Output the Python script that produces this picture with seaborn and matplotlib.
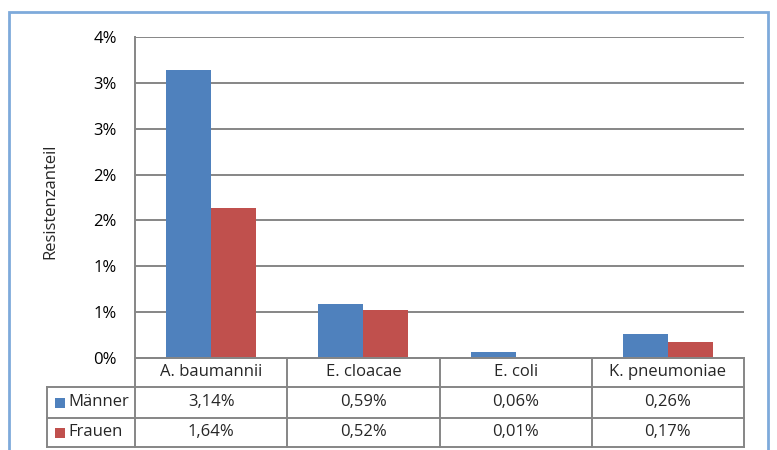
import math
import matplotlib
matplotlib.use("Agg")
import matplotlib.pyplot as plt
from matplotlib.patches import Rectangle
from matplotlib.ticker import FuncFormatter, MultipleLocator
import numpy as np
import pandas as pd
import seaborn as sns

# Resistenzanteile nach Erreger und Geschlecht (in %)
erreger = ["A. baumannii", "E. cloacae", "E. coli", "K. pneumoniae"]
maenner = [3.14, 0.59, 0.06, 0.26]
frauen = [1.64, 0.52, 0.01, 0.17]
gruppen = ["Männer", "Frauen"]
farben = ["#4F81BD", "#C0504D"]

sns.set_style("white")
plt.rcParams["font.family"] = ["Open Sans", "DejaVu Sans"]

df = pd.DataFrame({
    "Erreger": erreger * 2,
    "Gruppe": [gruppen[0]] * len(erreger) + [gruppen[1]] * len(erreger),
    "Wert": maenner + frauen,
})

W, H = 777, 450
fig = plt.figure(figsize=(W / 100, H / 100), dpi=100)
L, R, T, B = 135, 744, 37, 358
ax = fig.add_axes([L / W, (H - B) / H, (R - L) / W, (B - T) / H])

sns.barplot(data=df, x="Erreger", y="Wert", hue="Gruppe", order=erreger,
            hue_order=gruppen, palette=farben, width=0.59, gap=0,
            saturation=1, legend=False, ax=ax)
for p in ax.patches:
    p.set_edgecolor("none")

fs = 12
grid_c = "#868686"
ax.set_xlim(-0.5, len(erreger) - 0.5)
ax.set_ylim(0, 3.5)
ax.yaxis.set_major_locator(MultipleLocator(0.5))
ax.yaxis.set_major_formatter(FuncFormatter(lambda v, _: f"{int(math.floor(v + 0.5 + 1e-9))}%"))
ax.grid(axis="y", color=grid_c, linewidth=1.4)
ax.set_axisbelow(True)
for s in ["top", "right"]:
    ax.spines[s].set_visible(False)
for s in ["left", "bottom"]:
    ax.spines[s].set_color(grid_c)
    ax.spines[s].set_linewidth(1.4)
ax.tick_params(axis="y", length=0, pad=13, labelsize=fs, labelcolor="#000000")
ax.set_xticks([])
ax.set_xlabel("")
ax.set_ylabel("Resistenzanteil", fontsize=fs)

# Datentabelle unter dem Diagramm
def fy(py):
    return (B - py) / (B - T)

def fx(px):
    return (px - L) / (R - L)

ax.yaxis.set_label_coords(fx(58), fy(201))

rows = [358, 387, 418, 447]
xleft = fx(47)
kw = dict(transform=ax.transAxes, color=grid_c, linewidth=1.4, clip_on=False,
          solid_capstyle="projecting")
ax.plot([0, 1], [fy(rows[0])] * 2, **kw)
for r in rows[1:]:
    ax.plot([xleft, 1], [fy(r)] * 2, **kw)
for k in range(len(erreger) + 1):
    ax.plot([k / len(erreger)] * 2, [fy(rows[0]), fy(rows[-1])], **kw)
ax.plot([xleft] * 2, [fy(rows[1]), fy(rows[-1])], **kw)

xt = ax.get_xaxis_transform()
for i, name in enumerate(erreger):
    ax.text(i, fy((rows[0] + rows[1]) / 2), name, transform=xt, ha="center",
            va="center", fontsize=fs, clip_on=False)
    for j, vals in enumerate([maenner, frauen]):
        ax.text(i, fy((rows[j + 1] + rows[j + 2]) / 2),
                f"{vals[i]:.2f}%".replace(".", ","), transform=xt,
                ha="center", va="center", fontsize=fs, clip_on=False)

for j, (g, c) in enumerate(zip(gruppen, farben)):
    yc = (rows[j + 1] + rows[j + 2]) / 2
    ax.add_patch(Rectangle((fx(55), fy(yc + 5)), fx(65) - fx(55), fy(yc - 5) - fy(yc + 5),
                           transform=ax.transAxes, facecolor=c, edgecolor="none",
                           clip_on=False))
    ax.text(fx(68), fy(yc), g, transform=ax.transAxes, ha="left", va="center",
            fontsize=fs, clip_on=False)

# Rahmen um das Diagramm
fig.add_artist(Rectangle((9 / W, -0.05), (768 - 9) / W, (H - 12) / H + 0.05,
                         transform=fig.transFigure, facecolor="none",
                         edgecolor="#7EAADB", linewidth=2.0))

fig.savefig("out.png", dpi=100, facecolor="white")
